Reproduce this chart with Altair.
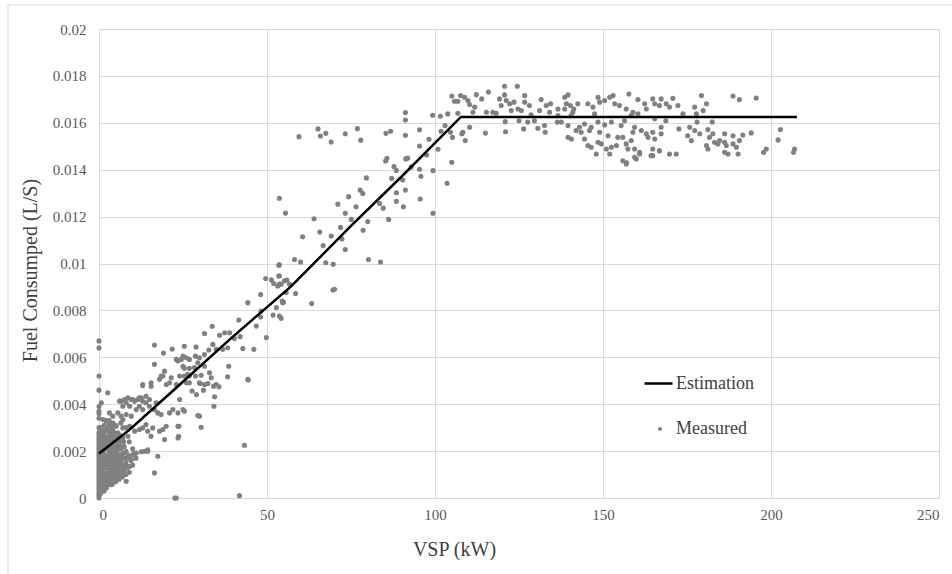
import altair as alt
import pandas as pd

x_ticks = [0, 50, 100, 150, 200, 250]
y_ticks = [0, 0.002, 0.004, 0.006, 0.008, 0.01, 0.012, 0.014, 0.016, 0.018, 0.02]

est_vsp = [0, 9, 23, 40, 57, 75, 90, 107.7, 207.7]
est_fuel = [0.0019, 0.0029, 0.0047, 0.0069, 0.0090, 0.0116, 0.0137, 0.01625, 0.01625]

measured_zero = [
    (0, 0.0000), (0, 0.0001), (0, 0.0002), (0, 0.0003), (0, 0.0004), (0, 0.0005), (0, 0.0006),
    (0, 0.0007), (0, 0.0008), (0, 0.0009), (0, 0.0010), (0, 0.0011), (0, 0.0012), (0, 0.0013),
    (0, 0.0014), (0, 0.0015), (0, 0.0016), (0, 0.0017), (0, 0.0018), (0, 0.0019), (0, 0.0020),
    (0, 0.0021), (0, 0.0022), (0, 0.0023), (0, 0.0024), (0, 0.0025), (0, 0.0026), (0, 0.0027),
    (0, 0.0028), (0, 0.0030), (0, 0.0034), (0, 0.0036), (0, 0.0037), (0, 0.0039), (0, 0.0046),
    (0, 0.0052), (0, 0.0064), (0, 0.0067),
]

measured_cluster = [
    (0.5, 0.0002), (0.5, 0.0006), (0.5, 0.0010), (0.5, 0.0014), (0.5, 0.0018), (0.5, 0.0022), (0.5, 0.0026), (0.5, 0.0030),
    (1.0, 0.0004), (1.0, 0.0008), (1.0, 0.0012), (1.0, 0.0016), (1.0, 0.0020), (1.0, 0.0024), (1.0, 0.0028),
    (1.5, 0.0003), (1.5, 0.0007), (1.5, 0.0011), (1.5, 0.0015), (1.5, 0.0019), (1.5, 0.0023), (1.5, 0.0027), (1.5, 0.0031),
    (2.0, 0.0005), (2.0, 0.0009), (2.0, 0.0013), (2.0, 0.0017), (2.0, 0.0021), (2.0, 0.0025), (2.0, 0.0029), (2.0, 0.0033),
    (2.5, 0.0006), (2.5, 0.0010), (2.5, 0.0014), (2.5, 0.0018), (2.5, 0.0022), (2.5, 0.0026), (2.5, 0.0030),
    (3.0, 0.0007), (3.0, 0.0012), (3.0, 0.0016), (3.0, 0.0020), (3.0, 0.0024), (3.0, 0.0028), (3.0, 0.0033),
    (3.5, 0.0008), (3.5, 0.0011), (3.5, 0.0015), (3.5, 0.0019), (3.5, 0.0023), (3.5, 0.0027),
    (4.0, 0.0006), (4.0, 0.0010), (4.0, 0.0013), (4.0, 0.0017), (4.0, 0.0021), (4.0, 0.0026), (4.0, 0.0030),
    (4.5, 0.0009), (4.5, 0.0014), (4.5, 0.0018), (4.5, 0.0022), (4.5, 0.0028),
    (5.0, 0.0007), (5.0, 0.0012), (5.0, 0.0016), (5.0, 0.0020), (5.0, 0.0025), (5.0, 0.0031),
    (5.5, 0.0010), (5.5, 0.0015), (5.5, 0.0019), (5.5, 0.0024),
    (6.0, 0.0008), (6.0, 0.0013), (6.0, 0.0018), (6.0, 0.0023), (6.0, 0.0027),
    (6.5, 0.0011), (6.5, 0.0016), (6.5, 0.0021), (6.5, 0.0032),
    (7.0, 0.0009), (7.0, 0.0014), (7.0, 0.0019), (7.0, 0.0026),
    (7.5, 0.0012), (7.5, 0.0017), (7.5, 0.0022),
    (8.0, 0.0010), (8.0, 0.0015), (8.0, 0.0020), (8.0, 0.0030),
    (9.0, 0.0011), (9.0, 0.0018), (9.0, 0.0024),
    (10.0, 0.0014), (10.0, 0.0021), (11.0, 0.0017),
    (0.3, 0.0012), (0.3, 0.0020), (0.8, 0.0006), (0.8, 0.0014), (0.8, 0.0022), (1.2, 0.0010),
    (1.2, 0.0018), (1.2, 0.0026), (1.8, 0.0005), (1.8, 0.0013), (1.8, 0.0021), (1.8, 0.0029),
    (2.3, 0.0008), (2.3, 0.0016), (2.3, 0.0024), (2.8, 0.0010), (2.8, 0.0018), (2.8, 0.0026),
    (3.3, 0.0009), (3.3, 0.0014), (3.3, 0.0022), (3.3, 0.0030), (3.8, 0.0012), (3.8, 0.0020),
    (3.8, 0.0025), (4.3, 0.0008), (4.3, 0.0016), (4.3, 0.0024), (4.8, 0.0011), (4.8, 0.0020),
    (4.8, 0.0026), (5.3, 0.0009), (5.3, 0.0017), (5.3, 0.0022), (5.8, 0.0012), (5.8, 0.0021),
    (6.3, 0.0010), (6.3, 0.0015), (6.3, 0.0025), (6.8, 0.0012), (6.8, 0.0018), (7.3, 0.0010),
    (7.3, 0.0024), (7.8, 0.0014), (8.5, 0.0013), (8.5, 0.0017), (9.5, 0.0016), (10.5, 0.0019),
]

measured_rise = [
    (0.7, 0.00406), (1.2, 0.00335), (2.2, 0.00327), (3.1, 0.00313), (5.1, 0.00306), (7.1, 0.00299),
    (9.1, 0.00306), (10.6, 0.00285), (8.6, 0.00263), (7.1, 0.00249), (5.6, 0.00278), (4.1, 0.00285),
    (4.6, 0.00249), (6.1, 0.0022), (8.1, 0.00192), (9.6, 0.00164), (9.1, 0.00135), (7.6, 0.00121),
    (6.6, 0.00092), (8.1, 0.00071), (5.1, 0.00078), (3.6, 0.00057), (2.2, 0.00043), (5.6, 0.00135),
    (4.1, 0.00164), (3.1, 0.00206), (5.1, 0.00192), (6.6, 0.00178), (2.6, 0.00107), (1.2, 0.00078),
    (4.1, 0.00107), (1.6, 0.00135), (2.2, 0.00235), (1.2, 0.00278),
    (2.6, 0.00449), (3.1, 0.00363), (4.1, 0.0032), (6.6, 0.00413), (7.1, 0.00335), (10.1, 0.0042),
    (12.0, 0.00427), (13.0, 0.00484), (15.5, 0.00477), (18.5, 0.0052), (23.5, 0.00584), (26.4, 0.00527),
    (23.5, 0.00306), (14.5, 0.00206),
    (7.6, 0.0042), (6.1, 0.00413), (8.1, 0.00406), (9.1, 0.00391), (7.1, 0.00391), (5.6, 0.00363),
    (8.1, 0.00356), (9.6, 0.00349), (6.6, 0.00349), (4.1, 0.00349),
    (10.6, 0.00413), (12.6, 0.00427), (14.0, 0.00434), (8.6, 0.00427), (9.6, 0.0042), (11.6, 0.0042),
    (13.0, 0.00413), (14.0, 0.00406), (15.0, 0.00391), (16.5, 0.00377),
    (11.1, 0.00377), (12.0, 0.00391), (13.0, 0.00377), (15.0, 0.0042), (17.0, 0.00406), (17.5, 0.00363),
    (18.5, 0.00356), (21.0, 0.00363), (22.0, 0.00377), (20.0, 0.00306), (19.0, 0.00292), (19.5, 0.00249),
    (18.0, 0.00285), (17.5, 0.00178), (16.5, 0.00107), (14.0, 0.00313), (13.0, 0.00299), (12.0, 0.00292),
    (14.5, 0.00285), (15.5, 0.00263), (16.0, 0.00299), (14.5, 0.00199), (13.5, 0.00199), (12.6, 0.00197),
    (11.1, 0.00192), (10.1, 0.00185),
    (23.8, 0.00306), (23.7, 0.00263), (23.5, 0.00256), (22.6, 0.0), (23.0, 0.0), (41.8, 0.0001),
    (43.3, 0.00225), (44.4, 0.00503), (23.5, 0.00363), (25.4, 0.0037), (25.0, 0.00377),
    (29.9, 0.00349), (30.4, 0.00302), (34.1, 0.00477), (35.7, 0.00474), (34.2, 0.00391), (24.0, 0.0042),
    (29.4, 0.00352), (34.4, 0.00432), (27.7, 0.00456), (29.0, 0.00441), (30.1, 0.00488), (31.1, 0.0046),
    (32.4, 0.00488), (26.0, 0.00491), (25.0, 0.00562),
    (16.5, 0.00652), (19.2, 0.00618), (21.8, 0.00635), (25.4, 0.00647), (28.9, 0.00644), (31.4, 0.00701),
    (33.7, 0.00732), (35.9, 0.00694), (37.4, 0.00705), (38.9, 0.00705), (40.3, 0.0068), (41.6, 0.00759),
    (42.0, 0.00688), (44.3, 0.00833), (48.1, 0.00868), (48.2, 0.00797), (48.1, 0.00772), (46.8, 0.00733),
    (49.8, 0.00684), (49.6, 0.00936), (51.3, 0.0093), (52.0, 0.00915), (53.5, 0.00993), (53.5, 0.00947),
    (53.2, 0.00904), (54.2, 0.00912), (55.2, 0.00926), (54.5, 0.0084), (54.7, 0.00833), (51.8, 0.0078),
    (53.7, 0.00776), (54.2, 0.00766), (52.8, 0.00812), (46.1, 0.00634), (42.8, 0.00637), (38.3, 0.00641),
    (38.6, 0.00562), (38.3, 0.00517), (44.3, 0.00506), (36.8, 0.00634), (34.9, 0.00634), (33.9, 0.00655),
    (32.7, 0.00631), (31.4, 0.00612), (29.9, 0.00598), (28.7, 0.00605), (26.9, 0.00591), (26.0, 0.00598),
    (25.0, 0.00605), (24.5, 0.00591), (23.0, 0.00591), (25.4, 0.00553), (26.9, 0.00553), (28.4, 0.00556),
    (29.4, 0.00577), (31.4, 0.00562), (32.9, 0.00534), (30.4, 0.00523), (28.7, 0.0052), (26.9, 0.0052),
    (25.4, 0.0052), (24.0, 0.0052), (21.5, 0.00513), (19.5, 0.00541), (19.0, 0.0052), (16.5, 0.0057),
    (15.5, 0.00491), (13.0, 0.0048), (21.0, 0.00491), (18.0, 0.00506), (20.0, 0.00484), (23.0, 0.00484),
    (26.9, 0.00491), (34.9, 0.00484), (31.4, 0.00484), (33.4, 0.00513), (29.9, 0.00491),
]

measured_mid = [
    (59.5, 0.01541), (65.2, 0.01574), (65.9, 0.01544), (67.5, 0.01555), (69.1, 0.01518), (73.3, 0.01553),
    (76.9, 0.01575), (77.9, 0.01526), (85.4, 0.01555), (86.8, 0.01564), (91.2, 0.01644), (91.2, 0.01612),
    (91.2, 0.01547), (95.4, 0.0157), (99.3, 0.01632), (101.6, 0.01628), (103.8, 0.01638), (101.8, 0.01564),
    (98.2, 0.0153), (95.4, 0.01501), (100.9, 0.01487), (97.5, 0.01463), (99.4, 0.01396), (103.6, 0.01342),
    (85.7, 0.01449), (85.3, 0.01437), (87.8, 0.01413), (88.5, 0.01397), (91.3, 0.01446), (91.9, 0.0145),
    (92.9, 0.01412), (95.4, 0.01402), (95.8, 0.01372), (95.6, 0.01275), (99.4, 0.01214), (87.1, 0.01363),
    (90.4, 0.01356), (91.2, 0.01313), (88.5, 0.01302), (88.5, 0.01265), (90.6, 0.01242), (79.6, 0.01365),
    (77.7, 0.01313), (78.5, 0.01299), (74.3, 0.01285), (76.5, 0.01242), (71.1, 0.01253), (73.3, 0.01214),
    (83.5, 0.01256), (84.6, 0.01236), (86.2, 0.01188), (80.0, 0.01179), (78.6, 0.01142), (75.1, 0.01188),
    (71.9, 0.01154), (72.3, 0.01105), (73.3, 0.0106), (69.1, 0.01117), (65.7, 0.01134), (66.7, 0.01077),
    (64.0, 0.01191), (60.6, 0.01114), (55.5, 0.01215), (53.7, 0.01278), (58.2, 0.01017), (60.0, 0.01006),
    (67.5, 0.01003), (69.7, 0.00997), (80.2, 0.01017), (83.8, 0.01006), (53.7, 0.00994), (53.7, 0.00947),
    (63.3, 0.00829), (55.7, 0.00876), (56.7, 0.00912), (58.5, 0.00872), (55.9, 0.00929), (53.7, 0.00912),
    (54.9, 0.00836), (70.1, 0.0089), (69.6, 0.00887), (105.0, 0.01432),
]

measured_plateau = [
    (103.0, 0.01588), (104.6, 0.0156), (105.2, 0.01538), (105.0, 0.01714), (105.8, 0.01692), (106.8, 0.01692),
    (107.6, 0.01716), (106.8, 0.01641), (108.0, 0.01553), (109.0, 0.01524), (108.8, 0.01709), (109.8, 0.01695),
    (110.3, 0.01678), (112.3, 0.0172), (111.8, 0.01667), (111.3, 0.01645), (110.3, 0.01581), (113.9, 0.01702),
    (115.0, 0.01556), (115.9, 0.01731), (117.2, 0.01645), (118.2, 0.01641), (120.7, 0.01756), (124.5, 0.01756),
    (120.7, 0.01719), (119.2, 0.01702), (121.2, 0.01695), (122.2, 0.01681), (119.7, 0.01674), (123.5, 0.01688),
    (122.7, 0.01652), (120.9, 0.01605), (121.0, 0.01562), (124.7, 0.01659), (125.7, 0.01652), (126.7, 0.01716),
    (126.7, 0.01688), (125.0, 0.01609), (126.4, 0.01574), (127.6, 0.01603), (128.6, 0.01634), (128.1, 0.01674),
    (129.6, 0.01609), (130.6, 0.01577), (131.6, 0.01699), (131.1, 0.01652), (132.8, 0.0156), (133.1, 0.01674),
    (134.4, 0.01681), (134.1, 0.01645), (136.4, 0.01603), (137.6, 0.01603), (136.6, 0.01659), (138.6, 0.01709),
    (139.6, 0.01719), (139.1, 0.01681), (138.6, 0.01659), (139.6, 0.01588), (140.3, 0.01674), (141.3, 0.01659),
    (142.5, 0.01681), (140.5, 0.01631), (141.0, 0.01645), (139.6, 0.01538), (140.6, 0.01531), (142.0, 0.01567),
    (143.0, 0.01581), (143.5, 0.0156), (144.5, 0.01595), (146.0, 0.01567), (146.5, 0.01581), (145.5, 0.01681),
    (147.0, 0.01667), (148.5, 0.01709), (149.0, 0.01688), (150.5, 0.01695), (152.0, 0.01709), (153.0, 0.01716),
    (153.5, 0.01681), (147.5, 0.01638), (144.5, 0.01531), (145.5, 0.01503), (146.5, 0.01496), (148.0, 0.01467),
    (148.5, 0.01517), (149.5, 0.0151), (151.0, 0.01488), (152.0, 0.01467), (152.5, 0.01496), (154.0, 0.01503),
    (154.4, 0.01538), (152.5, 0.01603), (150.5, 0.01591), (148.5, 0.01603), (149.0, 0.0156), (151.5, 0.01545),
    (155.4, 0.01588), (155.9, 0.01438), (136.6, 0.01631), (132.6, 0.01588), (115.3, 0.01645), (108.3, 0.0156),
    (157.0, 0.01429), (159.4, 0.01453), (160.9, 0.01467), (164.8, 0.0146), (166.8, 0.01481), (169.8, 0.01467),
    (171.8, 0.01467),
    (157.7, 0.01723), (160.4, 0.01699), (154.9, 0.01674), (156.9, 0.01659), (158.9, 0.01645), (158.4, 0.01631),
    (160.4, 0.01638), (162.4, 0.01681), (162.9, 0.01659), (164.8, 0.01702), (165.4, 0.01681), (167.3, 0.01702),
    (166.8, 0.01674), (168.8, 0.01681), (170.8, 0.01705), (169.8, 0.01667), (172.3, 0.01674), (173.8, 0.01638),
    (177.3, 0.01667), (179.3, 0.01716), (180.8, 0.01681), (179.8, 0.01652), (177.8, 0.01638), (188.7, 0.01714),
    (190.6, 0.01699), (195.6, 0.01706), (156.4, 0.01609), (165.4, 0.01617), (168.7, 0.01609), (178.0, 0.01603),
    (182.5, 0.01603), (159.4, 0.01581), (158.9, 0.0156), (161.4, 0.01567), (162.9, 0.01553), (164.8, 0.0156),
    (167.3, 0.01581), (167.3, 0.01553), (172.6, 0.01574), (175.8, 0.01581), (177.3, 0.01567), (178.8, 0.01553),
    (175.2, 0.01545), (176.3, 0.01524), (181.2, 0.01571), (182.7, 0.01553), (186.2, 0.01553), (188.7, 0.01545),
    (191.6, 0.01548), (194.1, 0.01557), (202.8, 0.01571), (202.1, 0.01527), (155.9, 0.01538), (156.9, 0.0151),
    (158.4, 0.01524), (157.4, 0.01488), (159.4, 0.01488), (160.9, 0.01474), (159.9, 0.01446), (156.9, 0.01424),
    (163.4, 0.01538), (165.4, 0.01531), (164.8, 0.01488), (164.3, 0.0146), (166.8, 0.01481), (181.7, 0.01538),
    (180.8, 0.01503), (181.2, 0.01488), (183.2, 0.01517), (184.2, 0.0151), (184.7, 0.01524), (186.2, 0.01517),
    (186.7, 0.01503), (187.2, 0.01467), (186.2, 0.01474), (188.7, 0.0151), (189.7, 0.01496), (190.2, 0.01467),
    (190.6, 0.01524), (198.6, 0.01488), (197.8, 0.01474), (207.0, 0.01488), (206.7, 0.01474),
]

measured = measured_zero + measured_cluster + measured_rise + measured_mid + measured_plateau
df_pts = pd.DataFrame({
    "vsp": [p[0] for p in measured],
    "fuel": [p[1] for p in measured],
    "series": ["Measured"] * len(measured),
})
df_est = pd.DataFrame({"vsp": est_vsp, "fuel": est_fuel, "series": ["Estimation"] * len(est_vsp)})

FONT = "Liberation Serif"
GRID = "#d9d9d9"

x_enc = alt.X(
    "vsp:Q",
    scale=alt.Scale(domain=[0, 250], nice=False, zero=False),
    axis=alt.Axis(
        values=x_ticks, title="VSP (kW)", grid=True, gridColor=GRID, domain=True,
        domainColor=GRID, ticks=False, labelFont=FONT, labelFontSize=15, labelColor="#595959",
        labelPadding=9, titleFont=FONT, titleFontSize=20, titleFontWeight="normal",
        titleColor="#404040", titleX=355, titleY=51, titleBaseline="middle",
    ),
)
y_enc = alt.Y(
    "fuel:Q",
    scale=alt.Scale(domain=[0, 0.02], nice=False),
    axis=alt.Axis(
        values=y_ticks, format=".3~f", title="Fuel Consumped (L/S)", grid=True, gridColor=GRID,
        domain=False, ticks=False, labelFont=FONT, labelFontSize=15, labelColor="#595959",
        labelPadding=13, titleFont=FONT, titleFontSize=20, titleFontWeight="normal",
        titleColor="#404040", titleX=-69, titleY=241, titleBaseline="middle", titleAlign="center",
    ),
)

points = alt.Chart(df_pts).mark_point(filled=True, size=26, opacity=1).encode(
    x=x_enc, y=y_enc,
    color=alt.Color("series:N", scale=alt.Scale(domain=["Measured"], range=["#808080"]),
                    legend=alt.Legend(title=None, orient="none", legendX=552, legendY=391,
                                      labelFont=FONT, labelFontSize=18, labelColor="#404040",
                                      symbolSize=16, symbolStrokeWidth=0, symbolType="circle",
                                      labelOffset=7, padding=0)),
)

line = alt.Chart(df_est).mark_line(color="black", strokeWidth=2.5).encode(
    x="vsp:Q", y="fuel:Q",
    color=alt.Color("series:N", scale=alt.Scale(domain=["Estimation"], range=["black"]),
                    legend=alt.Legend(title=None, orient="none", legendX=544, legendY=339,
                                      labelFont=FONT, labelFontSize=18, labelColor="#404040",
                                      symbolType="stroke", symbolSize=784, symbolStrokeWidth=2.5,
                                      labelOffset=2, padding=0)),
)

dummy = pd.DataFrame({"a": [0]})
frame_left = alt.Chart(dummy).mark_rule(color=GRID, strokeWidth=1).encode(
    x=alt.value(-91), y=alt.value(-24), y2=alt.value(600))
frame_top = alt.Chart(dummy).mark_rule(color=GRID, strokeWidth=1).encode(
    x=alt.value(-91), x2=alt.value(900), y=alt.value(-24))

chart = alt.layer(frame_left, frame_top, points, line).resolve_scale(color="independent").properties(
    width=840, height=469,
    autosize=alt.AutoSizeParams(type="none"),
    padding={"left": 99, "top": 29, "right": 13, "bottom": 76},
    background="white",
).configure_view(stroke=None)

chart.save("out.html", embed_options={"renderer": "svg", "actions": False})
